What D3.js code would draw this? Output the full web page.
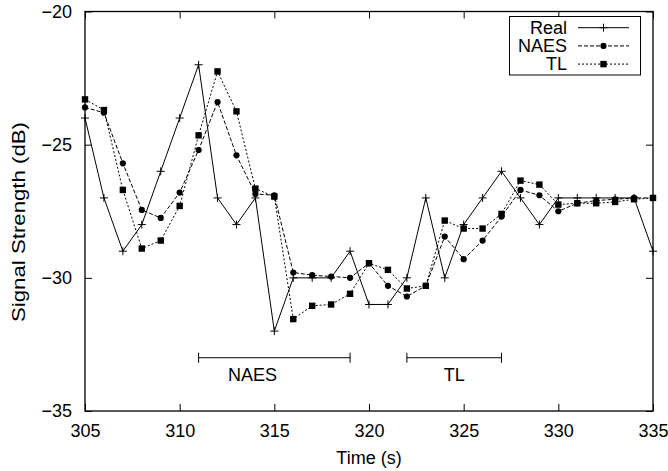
<!DOCTYPE html>
<html>
<head>
<meta charset="utf-8">
<script src="https://cdn.jsdelivr.net/npm/d3@7"></script>
<style>
  body { margin: 0; background: #fff; }
  svg { display: block; font-family: "Liberation Sans", Arial, sans-serif; }
</style>
</head>
<body>
<div class="chart"></div>
<script>
const times = [305, 306, 307, 308, 309, 310, 311, 312, 313, 314, 315, 316, 317, 318, 319, 320,
  321, 322, 323, 324, 325, 326, 327, 328, 329, 330, 331, 332, 333, 334, 335];
const real = [-24, -27, -29, -28, -26, -24, -22, -27, -28, -27, -32, -30, -30, -30, -29, -31,
  -31, -30, -27, -30, -28, -27, -26, -27, -28, -27, -27, -27, -27, -27, -29];
const naes = [-23.6, -23.8, -25.7, -27.45, -27.75, -26.8, -25.2, -23.4, -25.4, -26.85, -26.9, -29.8, -29.9, -29.95, -30.0, -29.45,
  -30.3, -30.7, -30.3, -28.45, -29.3, -28.6, -27.7, -26.7, -26.9, -27.5, -27.2, -27.1, -27.05, -27.0, -27.0];
const tl = [-23.3, -23.7, -26.7, -28.9, -28.6, -27.3, -24.65, -22.25, -23.75, -26.65, -26.95, -31.55, -31.05, -31.0, -30.6, -29.45,
  -29.7, -30.4, -30.3, -27.85, -28.15, -28.15, -27.6, -26.35, -26.5, -27.25, -27.2, -27.2, -27.15, -27.05, -27.0];
const seriesNames = ['Real', 'NAES', 'TL'];
const xTicks = [305, 310, 315, 320, 325, 330, 335];
const yTicks = [-35, -30, -25, -20];
// interval bars under the curves: [label, from, to, label position]
const spans = [['NAES', 311, 319, 313.85], ['TL', 322, 327, 324.5]];
const spanLevel = -33;

const config = { width: 668, height: 471, left: 85, right: 653, top: 11.5, bottom: 411 };

const svg = d3.select('.chart').append('svg')
  .attr('width', config.width)
  .attr('height', config.height);

const x = d3.scaleLinear().domain([305, 335]).range([config.left, config.right]);
const y = d3.scaleLinear().domain([-35, -20]).range([config.bottom, config.top]);

const fmt = d => String(d).replace('-', '\u2212');

// axes, ticks pointing inward on all four sides
const bottomAxis = svg.append('g')
  .attr('transform', `translate(0,${config.bottom})`)
  .call(d3.axisBottom(x).tickValues(xTicks).tickSize(-7).tickPadding(13).tickFormat(d => d));
svg.append('g')
  .attr('transform', `translate(0,${config.top})`)
  .call(d3.axisTop(x).tickValues(xTicks).tickSize(-7).tickFormat(''));
const leftAxis = svg.append('g')
  .attr('transform', `translate(${config.left},0)`)
  .call(d3.axisLeft(y).tickValues(yTicks).tickSize(-7).tickPadding(13).tickFormat(fmt));
svg.append('g')
  .attr('transform', `translate(${config.right},0)`)
  .call(d3.axisRight(y).tickValues(yTicks).tickSize(-7).tickFormat(''));

svg.selectAll('.domain').remove();
svg.selectAll('.tick line').attr('stroke', '#000').attr('stroke-width', 1);
svg.selectAll('.tick text')
  .attr('font-size', 18)
  .attr('font-family', '"Liberation Sans", Arial, sans-serif')
  .attr('fill', '#000');

svg.append('rect')
  .attr('x', config.left)
  .attr('y', config.top)
  .attr('width', config.right - config.left)
  .attr('height', config.bottom - config.top)
  .attr('fill', 'none')
  .attr('stroke', '#000')
  .attr('stroke-width', 1.3);

// axis titles
svg.append('text')
  .attr('x', (config.left + config.right) / 2)
  .attr('y', 464)
  .attr('text-anchor', 'middle')
  .attr('font-size', 18)
  .text('Time (s)');

svg.append('text')
  .attr('transform', 'translate(25,222) rotate(-90)')
  .attr('text-anchor', 'middle')
  .attr('font-size', 18)
  .attr('textLength', 200)
  .attr('lengthAdjust', 'spacingAndGlyphs')
  .text('Signal Strength (dB)');

// series
const series = [
  { name: seriesNames[0], values: real, dash: null, marker: 'plus' },
  { name: seriesNames[1], values: naes, dash: '4,2', marker: 'circle' },
  { name: seriesNames[2], values: tl, dash: '2,2', marker: 'square' }
];

function drawMarker(g, type, cx, cy) {
  if (type === 'plus') {
    g.append('path')
      .attr('d', `M${cx - 4},${cy}H${cx + 4}M${cx},${cy - 4}V${cy + 4}`)
      .attr('stroke', '#000')
      .attr('stroke-width', 1);
  } else if (type === 'circle') {
    g.append('circle').attr('cx', cx).attr('cy', cy).attr('r', 3.1).attr('fill', '#000');
  } else {
    g.append('rect').attr('x', cx - 3.2).attr('y', cy - 3.2).attr('width', 6.4).attr('height', 6.4).attr('fill', '#000');
  }
}

const line = d3.line().x(d => x(d[0])).y(d => y(d[1]));

series.slice().reverse().forEach(s => {
  const pts = times.map((t, i) => [t, s.values[i]]);
  const g = svg.append('g');
  g.append('path')
    .attr('d', line(pts))
    .attr('fill', 'none')
    .attr('stroke', '#000')
    .attr('stroke-width', 1)
    .attr('stroke-dasharray', s.dash);
  pts.forEach(p => drawMarker(g, s.marker, x(p[0]), y(p[1])));
});

// interval annotations
spans.forEach(([label, from, to, at]) => {
  const g = svg.append('g').attr('stroke', '#000').attr('stroke-width', 1);
  g.append('line').attr('x1', x(from)).attr('x2', x(to)).attr('y1', y(spanLevel)).attr('y2', y(spanLevel));
  g.append('line').attr('x1', x(from)).attr('x2', x(from)).attr('y1', y(spanLevel) - 5).attr('y2', y(spanLevel) + 5);
  g.append('line').attr('x1', x(to)).attr('x2', x(to)).attr('y1', y(spanLevel) - 5).attr('y2', y(spanLevel) + 5);
  svg.append('text')
    .attr('x', x(at))
    .attr('y', y(spanLevel) + 23)
    .attr('text-anchor', 'middle')
    .attr('font-size', 18)
    .text(label);
});

// legend
const legend = svg.append('g');
legend.append('rect')
  .attr('x', 509.5).attr('y', 16.5)
  .attr('width', 131).attr('height', 58.5)
  .attr('fill', '#fff')
  .attr('stroke', '#000')
  .attr('stroke-width', 1);

series.forEach((s, i) => {
  const ly = 27.7 + i * 18.2;
  legend.append('text')
    .attr('x', 567)
    .attr('y', ly + 6.3)
    .attr('text-anchor', 'end')
    .attr('font-size', 18)
    .text(s.name);
  legend.append('line')
    .attr('x1', 578).attr('x2', 629)
    .attr('y1', ly).attr('y2', ly)
    .attr('stroke', '#000')
    .attr('stroke-width', 1)
    .attr('stroke-dasharray', s.dash);
  drawMarker(legend, s.marker, 603.5, ly);
});
</script>
</body>
</html>
